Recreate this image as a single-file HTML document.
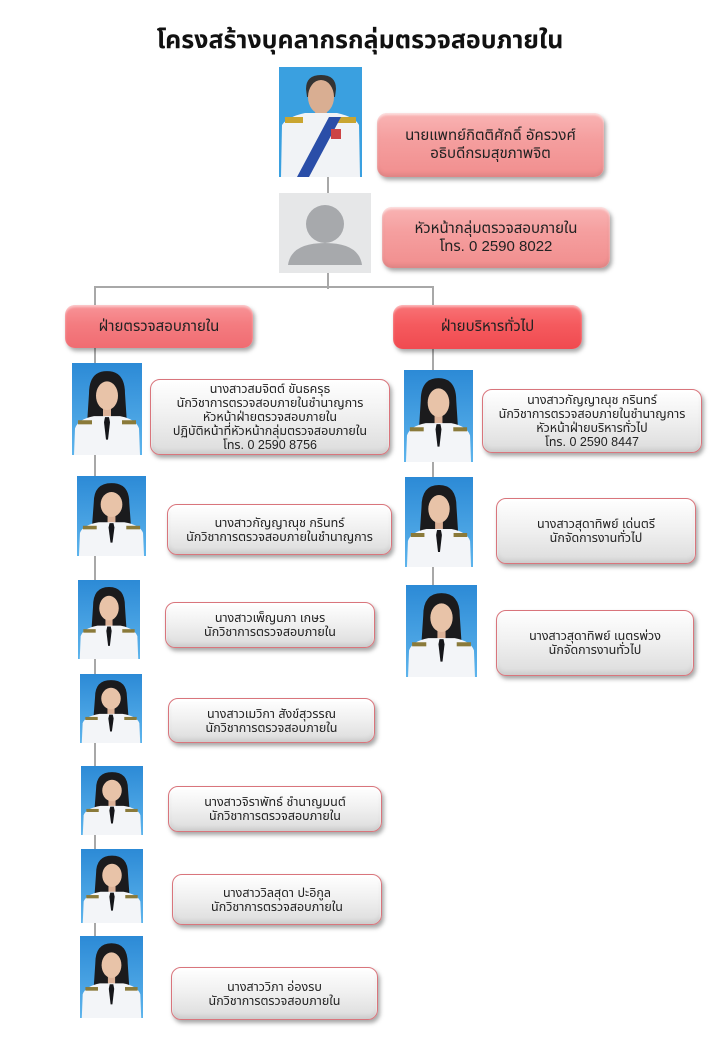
<!DOCTYPE html>
<html><head><meta charset="utf-8">
<style>
html,body{margin:0;padding:0;background:#fff;}
body{width:720px;height:1040px;position:relative;overflow:hidden;font-family:"Liberation Sans","Noto Sans Thai","Loma","Garuda","DejaVu Sans",sans-serif;color:#1a1a1a;}
.t{position:absolute;left:0;top:22px;width:720px;text-align:center;font-size:25px;font-weight:bold;color:#111;}
.ln{position:absolute;background:#a8a8a8;}
.box{position:absolute;box-sizing:border-box;border-radius:10px;display:flex;align-items:center;justify-content:center;text-align:center;font-size:12.5px;line-height:14px;color:#222;}
.p{border:1.5px solid #d9757c;background:linear-gradient(180deg,#ffffff 0%,#f1f1f1 45%,#dcdcdc 100%);box-shadow:2px 3px 4px rgba(0,0,0,.35),inset 0 2px 2px #fff,inset 0 -3px 4px rgba(0,0,0,.08);}
.pk{background:linear-gradient(180deg,#f9b4b4 0%,#f59f9f 40%,#f18e8e 100%);box-shadow:2px 3px 4px rgba(0,0,0,.35),inset 0 2px 2px rgba(255,255,255,.6),inset 0 -3px 4px rgba(0,0,0,.08);font-size:15px;line-height:18px;}
.dl{background:linear-gradient(180deg,#f89498 0%,#f47c80 45%,#f06c72 100%);box-shadow:2px 3px 4px rgba(0,0,0,.35),inset 0 2px 2px rgba(255,255,255,.5);font-size:15px;}
.dr{background:linear-gradient(180deg,#f87376 0%,#f55a5e 45%,#f04a50 100%);box-shadow:2px 3px 4px rgba(0,0,0,.35),inset 0 2px 2px rgba(255,255,255,.5);font-size:15px;}
svg.ph{position:absolute;}
</style></head><body>
<svg width="0" height="0" style="position:absolute">
<defs>
<linearGradient id="bg" x1="0" y1="0" x2="0" y2="1"><stop offset="0" stop-color="#2c8ad6"/><stop offset="1" stop-color="#5db4ec"/></linearGradient>
<symbol id="w" viewBox="0 0 70 90" preserveAspectRatio="none">
<rect width="70" height="90" fill="url(#bg)"/>
<path d="M17 30 Q17 8 35 8 Q53 8 53 30 L55 60 L15 60 Z" fill="#1b1b1d"/>
<rect x="31" y="42" width="8" height="12" fill="#dcb298"/>
<ellipse cx="35" cy="32" rx="11" ry="14" fill="#e8c3a8"/>
<path d="M2 90 L3 64 Q6 55 22 52 L48 52 Q64 55 67 64 L68 90 Z" fill="#f3f5f8"/>
<rect x="6" y="56" width="14" height="4" fill="#8a7a3a"/>
<rect x="50" y="56" width="14" height="4" fill="#8a7a3a"/>
<path d="M33 53 L37 53 L38 58 L36 75 L34 75 L32 58 Z" fill="#15161a"/>
</symbol>
<symbol id="m" viewBox="0 0 83 110" preserveAspectRatio="none">
<rect width="83" height="110" fill="#3aa0e0"/>
<path d="M27 22 Q27 8 42 8 Q57 8 57 22 L56 30 L28 30 Z" fill="#333"/>
<rect x="36" y="40" width="12" height="12" fill="#cfa285"/>
<ellipse cx="42" cy="30" rx="13" ry="17" fill="#d9ae92"/>
<path d="M2 110 L3 58 Q8 50 26 46 L58 46 Q76 50 80 58 L81 110 Z" fill="#f1f3f6"/>
<rect x="6" y="50" width="18" height="6" fill="#c9a530"/>
<rect x="59" y="50" width="18" height="6" fill="#c9a530"/>
<path d="M50 50 L62 50 L30 110 L18 110 Z" fill="#2a4ea8"/>
<rect x="52" y="62" width="10" height="10" fill="#c44"/>
</symbol>
</defs>
</svg>

<div class="t">โครงสร้างบุคลากรกลุ่มตรวจสอบภายใน</div>

<!-- connectors -->
<div class="ln" style="left:327px;top:175px;width:2px;height:114px;"></div>
<div class="ln" style="left:94px;top:286px;width:340px;height:2px;"></div>
<div class="ln" style="left:94px;top:286px;width:2px;height:660px;"></div>
<div class="ln" style="left:432px;top:286px;width:2px;height:305px;"></div>

<!-- top -->
<svg class="ph" style="left:279px;top:67px" width="83" height="110"><use href="#m" width="83" height="110"/></svg>
<svg class="ph" style="left:279px;top:193px" width="92" height="80" viewBox="0 0 92 80">
<rect width="92" height="80" fill="#e6e7e8"/>
<circle cx="46" cy="31" r="19" fill="#a7a9ac"/>
<path d="M9 72 Q12 50 46 50 Q80 50 83 72 Z" fill="#a7a9ac"/>
</svg>
<div class="box pk" style="left:377px;top:113px;width:227px;height:64px;">นายแพทย์กิตติศักดิ์ อัครวงศ์<br>อธิบดีกรมสุขภาพจิต</div>
<div class="box pk" style="left:382px;top:207px;width:228px;height:61px;">หัวหน้ากลุ่มตรวจสอบภายใน<br>โทร. 0 2590 8022</div>

<!-- departments -->
<div class="box dl" style="left:65px;top:305px;width:188px;height:43px;">ฝ่ายตรวจสอบภายใน</div>
<div class="box dr" style="left:393px;top:305px;width:189px;height:44px;">ฝ่ายบริหารทั่วไป</div>

<!-- left column photos -->
<svg class="ph" style="left:72px;top:363px" width="70" height="92"><use href="#w" width="70" height="92"/></svg>
<svg class="ph" style="left:77px;top:476px" width="69" height="80"><use href="#w" width="69" height="80"/></svg>
<svg class="ph" style="left:78px;top:580px" width="62" height="79"><use href="#w" width="62" height="79"/></svg>
<svg class="ph" style="left:80px;top:674px" width="62" height="69"><use href="#w" width="62" height="69"/></svg>
<svg class="ph" style="left:81px;top:766px" width="62" height="69"><use href="#w" width="62" height="69"/></svg>
<svg class="ph" style="left:81px;top:849px" width="62" height="74"><use href="#w" width="62" height="74"/></svg>
<svg class="ph" style="left:80px;top:936px" width="63" height="82"><use href="#w" width="63" height="82"/></svg>

<!-- left column boxes -->
<div class="box p" style="left:150px;top:379px;width:240px;height:76px;">นางสาวสมจิตต์ ขันธครุธ<br>นักวิชาการตรวจสอบภายในชำนาญการ<br>หัวหน้าฝ่ายตรวจสอบภายใน<br>ปฏิบัติหน้าที่หัวหน้ากลุ่มตรวจสอบภายใน<br>โทร. 0 2590 8756</div>
<div class="box p" style="left:167px;top:504px;width:225px;height:51px;">นางสาวกัญญาณุช กรินทร์<br>นักวิชาการตรวจสอบภายในชำนาญการ</div>
<div class="box p" style="left:165px;top:602px;width:210px;height:46px;">นางสาวเพ็ญนภา เกษร<br>นักวิชาการตรวจสอบภายใน</div>
<div class="box p" style="left:168px;top:698px;width:207px;height:45px;">นางสาวเมวิกา สังข์สุวรรณ<br>นักวิชาการตรวจสอบภายใน</div>
<div class="box p" style="left:168px;top:786px;width:214px;height:46px;">นางสาวจิราพัทธ์ ชำนาญมนต์<br>นักวิชาการตรวจสอบภายใน</div>
<div class="box p" style="left:172px;top:874px;width:210px;height:51px;">นางสาววิลสุดา ปะอิกูล<br>นักวิชาการตรวจสอบภายใน</div>
<div class="box p" style="left:171px;top:967px;width:207px;height:53px;">นางสาววิภา อ่องรบ<br>นักวิชาการตรวจสอบภายใน</div>

<!-- right column photos -->
<svg class="ph" style="left:404px;top:370px" width="69" height="92"><use href="#w" width="69" height="92"/></svg>
<svg class="ph" style="left:405px;top:477px" width="68" height="90"><use href="#w" width="68" height="90"/></svg>
<svg class="ph" style="left:406px;top:585px" width="71" height="92"><use href="#w" width="71" height="92"/></svg>

<!-- right column boxes -->
<div class="box p" style="left:482px;top:389px;width:220px;height:64px;">นางสาวกัญญาณุช กรินทร์<br>นักวิชาการตรวจสอบภายในชำนาญการ<br>หัวหน้าฝ่ายบริหารทั่วไป<br>โทร. 0 2590 8447</div>
<div class="box p" style="left:496px;top:498px;width:200px;height:66px;">นางสาวสุดาทิพย์ เด่นตรี<br>นักจัดการงานทั่วไป</div>
<div class="box p" style="left:496px;top:610px;width:198px;height:66px;">นางสาวสุดาทิพย์ เนตรพ่วง<br>นักจัดการงานทั่วไป</div>
</body></html>
